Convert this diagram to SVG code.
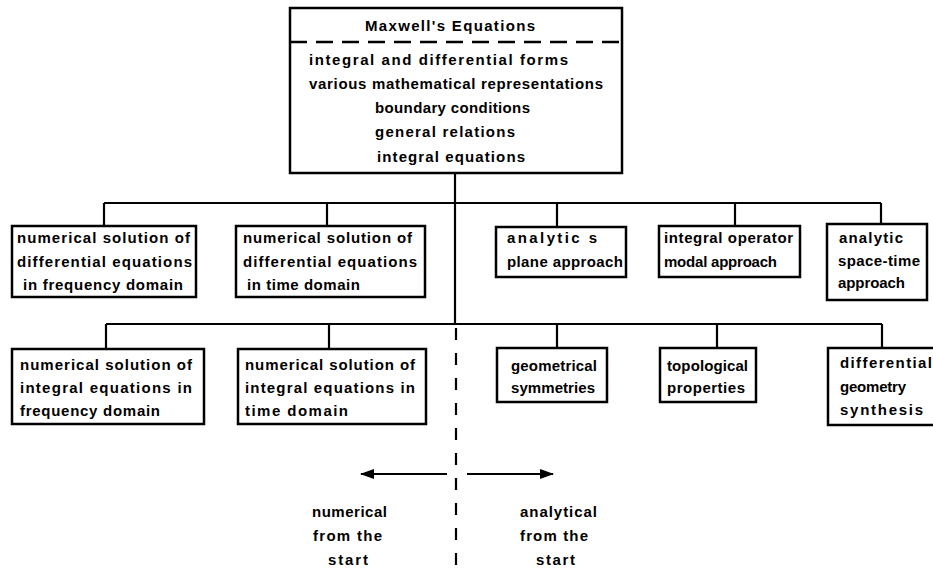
<svg xmlns="http://www.w3.org/2000/svg" width="933" height="570" viewBox="0 0 933 570">
<style>
rect.box{fill:#fff;stroke:#000;stroke-width:2.5}
.t{font-family:"Liberation Sans",Arial,sans-serif;font-size:15px;font-weight:bold;fill:#000}
.ln{stroke:#000;stroke-width:2.2;fill:none}
</style>
<defs>
<marker id="ah" markerWidth="14" markerHeight="12" refX="13" refY="6" orient="auto" markerUnits="userSpaceOnUse">
<path d="M0,1 L14,6 L0,11 Z" fill="#000"/>
</marker>
</defs>
<rect width="933" height="570" fill="#fff"/>

<g id="connectors">
<line class="ln" x1="455" y1="173" x2="455" y2="325"/>
<line class="ln" x1="104" y1="203" x2="881" y2="203"/>
<line class="ln" x1="104" y1="203" x2="104" y2="226"/>
<line class="ln" x1="327" y1="203" x2="327" y2="226"/>
<line class="ln" x1="557" y1="203" x2="557" y2="227"/>
<line class="ln" x1="735" y1="203" x2="735" y2="226"/>
<line class="ln" x1="881" y1="203" x2="881" y2="224"/>
<line class="ln" x1="106" y1="324" x2="882" y2="324"/>
<line class="ln" x1="106" y1="324" x2="106" y2="349"/>
<line class="ln" x1="329" y1="324" x2="329" y2="349"/>
<line class="ln" x1="557" y1="324" x2="557" y2="348"/>
<line class="ln" x1="717" y1="324" x2="717" y2="348"/>
<line class="ln" x1="882" y1="324" x2="882" y2="348"/>
<line class="ln" x1="456" y1="328" x2="456" y2="570" stroke-dasharray="12 13"/>
<line class="ln" x1="447" y1="474" x2="361" y2="474" stroke-width="3.5" marker-end="url(#ah)"/>
<line class="ln" x1="467" y1="474" x2="553" y2="474" stroke-width="3.5" marker-end="url(#ah)"/>
</g>

<g id="maxwell">
<rect class="box" x="290" y="8" width="332" height="165"/>
<line x1="290" y1="42" x2="622" y2="42" stroke="#000" stroke-width="2.5" stroke-dasharray="17 9"/>
<text class="t" x="365" y="31" textLength="170" lengthAdjust="spacing">Maxwell's Equations</text>
<text class="t" x="309" y="65" textLength="259" lengthAdjust="spacing">integral and differential forms</text>
<text class="t" x="309" y="89" textLength="294" lengthAdjust="spacing">various mathematical representations</text>
<text class="t" x="375" y="113" textLength="155" lengthAdjust="spacing">boundary conditions</text>
<text class="t" x="375" y="137" textLength="140" lengthAdjust="spacing">general relations</text>
<text class="t" x="377" y="162" textLength="148" lengthAdjust="spacing">integral equations</text>
</g>

<g id="n1">
<rect class="box" x="12" y="226" width="184" height="71"/>
<text class="t" x="17" y="243" textLength="173" lengthAdjust="spacing">numerical solution of</text>
<text class="t" x="17" y="267" textLength="175" lengthAdjust="spacing">differential equations</text>
<text class="t" x="23" y="290" textLength="160" lengthAdjust="spacing">in frequency domain</text>
</g>
<g id="n2">
<rect class="box" x="236" y="226" width="189" height="71"/>
<text class="t" x="243" y="243" textLength="169" lengthAdjust="spacing">numerical solution of</text>
<text class="t" x="243" y="267" textLength="174" lengthAdjust="spacing">differential equations</text>
<text class="t" x="247" y="290" textLength="113" lengthAdjust="spacing">in time domain</text>
</g>
<g id="n3">
<rect class="box" x="496" y="227" width="130" height="50"/>
<text class="t" x="507" y="243" textLength="90" lengthAdjust="spacing">analytic    s</text>
<text class="t" x="507" y="267" textLength="116" lengthAdjust="spacing">plane approach</text>
</g>
<g id="n4">
<rect class="box" x="659" y="226" width="141" height="51"/>
<text class="t" x="664" y="243" textLength="129" lengthAdjust="spacing">integral operator</text>
<text class="t" x="664" y="267" textLength="113" lengthAdjust="spacing">modal approach</text>
</g>
<g id="n5">
<rect class="box" x="827" y="224" width="100" height="76"/>
<text class="t" x="839" y="243" textLength="64" lengthAdjust="spacing">analytic</text>
<text class="t" x="838" y="266" textLength="82" lengthAdjust="spacing">space-time</text>
<text class="t" x="838" y="288" textLength="67" lengthAdjust="spacing">approach</text>
</g>

<g id="m1">
<rect class="box" x="12" y="349" width="192" height="75"/>
<text class="t" x="20" y="370" textLength="172" lengthAdjust="spacing">numerical solution of</text>
<text class="t" x="20" y="393" textLength="172" lengthAdjust="spacing">integral equations in</text>
<text class="t" x="20" y="416" textLength="140" lengthAdjust="spacing">frequency domain</text>
</g>
<g id="m2">
<rect class="box" x="238" y="349" width="188" height="75"/>
<text class="t" x="245" y="370" textLength="170" lengthAdjust="spacing">numerical solution of</text>
<text class="t" x="245" y="393" textLength="170" lengthAdjust="spacing">integral equations in</text>
<text class="t" x="245" y="416" textLength="103" lengthAdjust="spacing">time domain</text>
</g>
<g id="m3">
<rect class="box" x="497" y="348" width="110" height="54"/>
<text class="t" x="511" y="371" textLength="86" lengthAdjust="spacing">geometrical</text>
<text class="t" x="511" y="393" textLength="84" lengthAdjust="spacing">symmetries</text>
</g>
<g id="m4">
<rect class="box" x="660" y="348" width="96" height="54"/>
<text class="t" x="667" y="371" textLength="81" lengthAdjust="spacing">topological</text>
<text class="t" x="667" y="393" textLength="78" lengthAdjust="spacing">properties</text>
</g>
<g id="m5">
<rect class="box" x="828" y="348" width="120" height="77"/>
<text class="t" x="840" y="368" textLength="92" lengthAdjust="spacing">differential</text>
<text class="t" x="840" y="392" textLength="66" lengthAdjust="spacing">geometry</text>
<text class="t" x="840" y="415" textLength="83" lengthAdjust="spacing">synthesis</text>
</g>

<g id="labels">
<text class="t" x="312" y="517" textLength="75" lengthAdjust="spacing">numerical</text>
<text class="t" x="313" y="541" textLength="69" lengthAdjust="spacing">from the</text>
<text class="t" x="328" y="565" textLength="40" lengthAdjust="spacing">start</text>
<text class="t" x="520" y="517" textLength="77" lengthAdjust="spacing">analytical</text>
<text class="t" x="520" y="541" textLength="68" lengthAdjust="spacing">from the</text>
<text class="t" x="536" y="565" textLength="39" lengthAdjust="spacing">start</text>
</g>
</svg>
